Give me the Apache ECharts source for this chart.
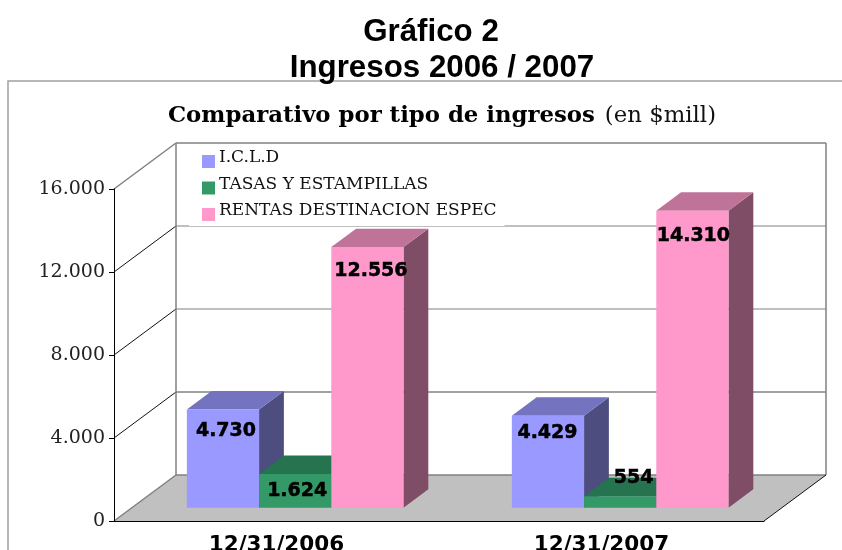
<!DOCTYPE html>
<html><head><meta charset="utf-8">
<style>html,body{margin:0;padding:0;background:#fff}#c{width:842px;height:550px}</style>
<script src="https://cdn.jsdelivr.net/npm/echarts@6/dist/echarts.min.js"></script>
</head><body><div id="c"></div>
<script>
const categories = ['12/31/2006', '12/31/2007'];
const seriesNames = ['I.C.L.D', 'TASAS Y ESTAMPILLAS', 'RENTAS DESTINACION ESPEC'];
const icld = [4730, 4429];
const tasas = [1624, 554];
const rentas = [12556, 14310];
const yTicks = [0, 4000, 8000, 12000, 16000];
const yTickLabels = ['0', '4.000', '8.000', '12.000', '16.000'];

const frontColors = ['#9999FF', '#339966', '#FF99CC'];
const topColors = ['#7373BF', '#267350', '#BF7399'];
const sideColors = ['#4D4D80', '#1A4D33', '#804D66'];
const DX = 62, DY = 46, F0 = 0.29, F1 = 0.69, BARS_PER_CAT = 4.5, BAR_SHIFT = 0.7;
const labelNudge = [[[3, 22], [-0.5, 17.5]], [[2, 17], [13.5, -18]], [[3.5, 24], [1, 25]]];
const fmt = v => String(v).replace(/\B(?=(\d{3})+$)/g, '.');

const serif = '"DejaVu Serif"', sans = '"DejaVu Sans"';

function wallsItem(params, api) {
  const g = params.coordSys;
  const x0 = g.x, x1 = g.x + g.width, yB = g.y + g.height, yT = g.y;
  const gray = '#808080';
  const line = (a, b, c, d, col, w) => ({ type: 'line', shape: { x1: a, y1: b, x2: c, y2: d }, style: { stroke: col, lineWidth: w } });
  const children = [{
    type: 'polygon',
    shape: { points: [[x0, yB], [x0 + DX, yB - DY], [x1 + DX, yB - DY], [x1, yB]] },
    style: { fill: '#C0C0C0' }
  }];
  yTicks.forEach(v => {
    const y = api.coord([0, v])[1];
    if (v > 0 && v < yTicks[yTicks.length - 1]) {
      children.push(line(x0, y, x0 + DX, y - DY, '#111', 1));
      children.push(line(x0 + DX, y - DY, x1 + DX, y - DY, v === yTicks[1] ? '#444' : gray, 1));
    }
  });
  children.push(line(x0, yT, x0 + DX, yT - DY, gray, 1.5));
  children.push(line(x0 + DX, yT - DY, x1 + DX, yT - DY, gray, 1.5));
  children.push(line(x0 + DX, yT - DY, x0 + DX, yB - DY, gray, 1.5));
  children.push(line(x1 + DX, yT - DY, x1 + DX, yB - DY, gray, 1.5));
  children.push(line(x0 + DX, yB - DY, x1 + DX, yB - DY, gray, 1.5));
  children.push(line(x0, yB, x0 + DX, yB - DY, gray, 1.5));
  children.push(line(x1, yB, x1 + DX, yB - DY, '#111', 1));
  return { type: 'group', children };
}

function barRenderer(si) {
  return function (params, api) {
    const cat = api.value(0), val = api.value(1);
    const top = api.coord([cat, val]), base = api.coord([cat, 0]);
    const w = api.size([1, 0])[0] / BARS_PER_CAT;
    const fx = F0 * DX, fy = F0 * DY, d = (F1 - F0), ddx = d * DX, ddy = d * DY;
    const l = top[0] - 1.5 * w + si * w + fx + BAR_SHIFT, r = l + w;
    const t = top[1] - fy, b = base[1] - fy;
    const nudge = labelNudge[si][cat];
    return {
      type: 'group',
      children: [
        { type: 'polygon', shape: { points: [[r, t], [r + ddx, t - ddy], [r + ddx, b - ddy], [r, b]] }, style: { fill: sideColors[si] } },
        { type: 'polygon', shape: { points: [[l, t], [l + ddx, t - ddy], [r + ddx, t - ddy], [r, t]] }, style: { fill: topColors[si] } },
        { type: 'rect', shape: { x: l, y: t, width: w, height: b - t }, style: { fill: frontColors[si] } },
        { type: 'text', z2: 50, style: { x: (l + r) / 2 + nudge[0], y: t + nudge[1], text: fmt(val), fill: '#000',
            stroke: '#000', lineWidth: 0.5,
            font: 'bold 19px ' + sans, align: 'center', verticalAlign: 'middle' } }
      ]
    };
  };
}

const seriesData = [icld, tasas, rentas];
const option = {
  animation: false,
  backgroundColor: '#fff',
  graphic: [{ type: 'rect', z: -1, shape: { x: 8, y: 81, width: 900, height: 600 }, style: { fill: '#fff', stroke: '#A0A0A0', lineWidth: 1.5 } }],
  title: [
    { text: 'Gráfico 2', left: 426, top: 12, textAlign: 'center', textStyle: { fontFamily: '"Liberation Sans"', fontWeight: 'bold', fontSize: 31.3, color: '#000' } },
    { text: 'Ingresos 2006 / 2007', left: 437, top: 48, textAlign: 'center', textStyle: { fontFamily: '"Liberation Sans"', fontWeight: 'bold', fontSize: 31.3, color: '#000' } },
    { text: '{b|Comparativo por tipo de ingresos}  {n|(en $mill)}', left: 437, top: 100, textAlign: 'center',
      textStyle: { rich: {
        b: { fontFamily: serif, fontWeight: 'bold', fontSize: 22.8, color: '#000' },
        n: { fontFamily: serif, fontWeight: 'normal', fontSize: 22.8, color: '#111' } } } }
  ],
  legend: {
    data: seriesNames, orient: 'vertical', left: 189, top: 146, width: 316,
    padding: [3.5, 8, 5, 13], itemWidth: 13, itemHeight: 13, itemGap: 8,
    backgroundColor: '#fff', selectedMode: false, icon: 'rect',
    formatter: '{t|{name}}',
    textStyle: { rich: { t: { fontFamily: serif, fontSize: 17, color: '#111', padding: [0, 0, 7, -1] } } }
  },
  grid: { left: 114, top: 189, width: 650, height: 332, outerBoundsMode: 'none' },
  xAxis: {
    type: 'category', data: categories, z: 5,
    axisLine: { lineStyle: { color: '#000', width: 1 } },
    axisTick: { length: 5, lineStyle: { color: '#000' } },
    axisLabel: { fontFamily: sans, fontWeight: 'bold', fontSize: 21.5, color: '#000', margin: 13 }
  },
  yAxis: {
    type: 'value', min: 0, max: 16000, interval: 4000, z: 5,
    axisLine: { show: true, lineStyle: { color: '#000', width: 1 } },
    axisTick: { show: true, length: 5, lineStyle: { color: '#000' } },
    splitLine: { show: false },
    axisLabel: { fontFamily: serif, fontSize: 19, color: '#222', margin: 9,
      formatter: v => yTickLabels[yTicks.indexOf(v)] }
  },
  series: [
    { type: 'custom', name: '_walls', z: 1, silent: true, clip: false, renderItem: wallsItem, data: [[0, 0]] }
  ].concat(seriesNames.map((name, si) => ({
    type: 'custom', name, z: 3 + si, clip: false,
    itemStyle: { color: frontColors[si] },
    renderItem: barRenderer(si),
    encode: { x: 0, y: 1 },
    data: seriesData[si].map((v, i) => [i, v])
  })))
};
echarts.init(document.getElementById('c'), null, { renderer: 'canvas' }).setOption(option);
</script></body></html>
